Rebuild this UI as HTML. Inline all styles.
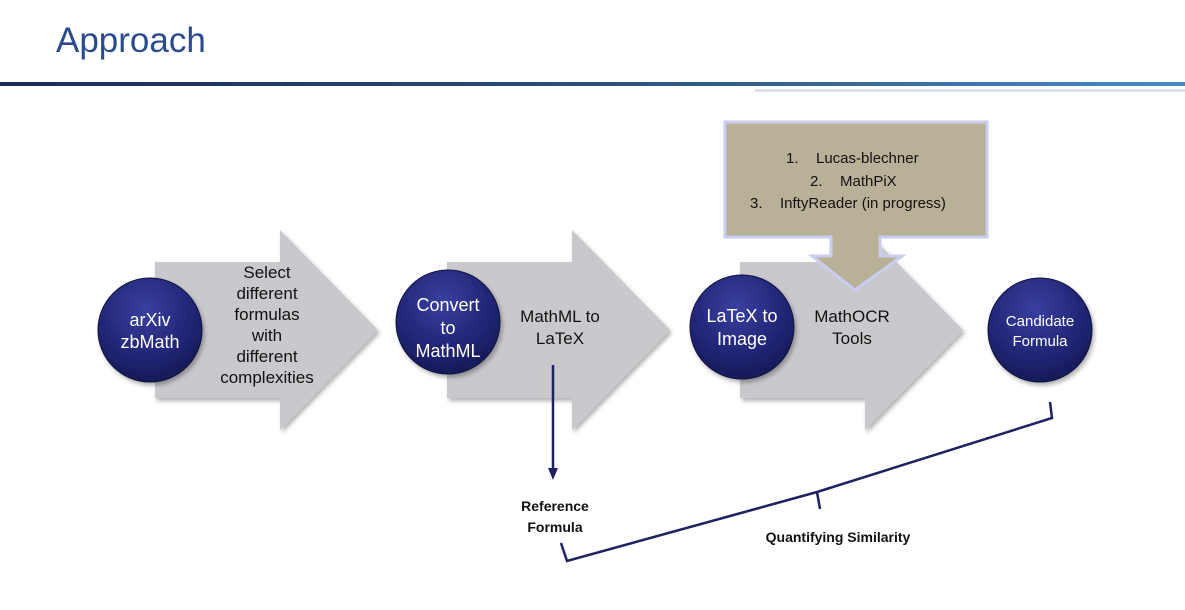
<!DOCTYPE html>
<html><head><meta charset="utf-8"><style>
body{margin:0;width:1185px;height:610px;background:#fff;overflow:hidden;font-family:"Liberation Sans",sans-serif}
</style></head><body>
<svg width="1185" height="610" viewBox="0 0 1185 610" xmlns="http://www.w3.org/2000/svg" style="position:absolute;left:0;top:0">
<defs>
<linearGradient id="hl" x1="0" x2="1"><stop offset="0" stop-color="#1a2a55"/><stop offset="0.5" stop-color="#2a4f80"/><stop offset="1" stop-color="#4a8bbf"/></linearGradient>
<radialGradient id="cg" cx="0.45" cy="0.3" r="0.75"><stop offset="0" stop-color="#3a3fa0"/><stop offset="0.7" stop-color="#1e226e"/><stop offset="1" stop-color="#14184f"/></radialGradient>
<filter id="sh" x="-20%" y="-20%" width="140%" height="140%"><feDropShadow dx="2" dy="3" stdDeviation="2" flood-color="#000" flood-opacity="0.3"/></filter>
</defs>
<text x="56" y="52" font-size="35" fill="#2b4b8f" font-family="Liberation Sans,sans-serif">Approach</text>
<rect x="0" y="82" width="1185" height="4" fill="url(#hl)"/>
<rect x="755" y="89" width="430" height="3" fill="#dcdff0"/>
<g fill="#c9c9cd" filter="url(#sh)">
<polygon points="155,262 280,262 280,230 378,330 280,430 280,398 155,398"/>
<polygon points="447,262 572,262 572,230 670,330 572,430 572,398 447,398"/>
<polygon points="740,262 865,262 865,230 963,330 865,430 865,398 740,398"/>
</g>
<g fill="url(#cg)" stroke="#0f1240" stroke-width="1" filter="url(#sh)">
<circle cx="150" cy="330" r="52"/>
<circle cx="448" cy="322" r="52"/>
<circle cx="742" cy="327" r="52"/>
<circle cx="1040" cy="330" r="52"/>
</g>
<g fill="#fff" font-size="18" text-anchor="middle" font-family="Liberation Sans,sans-serif">
<text x="150" y="326">arXiv</text><text x="150" y="348">zbMath</text>
<text x="448" y="311">Convert</text><text x="448" y="334">to</text><text x="448" y="357">MathML</text>
<text x="742" y="322">LaTeX to</text><text x="742" y="345">Image</text>
<text x="1040" y="326" font-size="15">Candidate</text><text x="1040" y="346" font-size="15">Formula</text>
</g>
<g fill="#111" font-size="17" text-anchor="middle">
<text x="267" y="278">Select</text><text x="267" y="299">different</text><text x="267" y="320">formulas</text><text x="267" y="341">with</text><text x="267" y="362">different</text><text x="267" y="383">complexities</text>
<text x="560" y="322">MathML to</text><text x="560" y="344">LaTeX</text>
<text x="852" y="322">MathOCR</text><text x="852" y="344">Tools</text>
</g>
<polygon points="725,122 987,122 987,237 880,237 880,256 902,256 855,290 812,256 831,256 831,237 725,237" fill="#b9b197" stroke="#c9cdf0" stroke-width="3"/>
<g fill="#111" font-size="15">
<text x="786" y="163">1.</text><text x="816" y="163">Lucas-blechner</text>
<text x="810" y="186">2.</text><text x="840" y="186">MathPiX</text>
<text x="750" y="208">3.</text><text x="780" y="208">InftyReader (in progress)</text>
</g>
<line x1="553" y1="365" x2="553" y2="470" stroke="#1e2260" stroke-width="2.5"/>
<polygon points="548,468 558,468 553,480" fill="#1e2260"/>
<g fill="#111" font-size="14" font-weight="bold" text-anchor="middle">
<text x="555" y="511">Reference</text><text x="555" y="532">Formula</text>
<text x="838" y="542">Quantifying Similarity</text>
</g>
<polyline points="561,543 567,561 817,492 1052,418 1050,402" fill="none" stroke="#1e2260" stroke-width="2.5"/>
<line x1="817" y1="492" x2="820" y2="509" stroke="#1e2260" stroke-width="2.5"/>
</svg>
</body></html>
